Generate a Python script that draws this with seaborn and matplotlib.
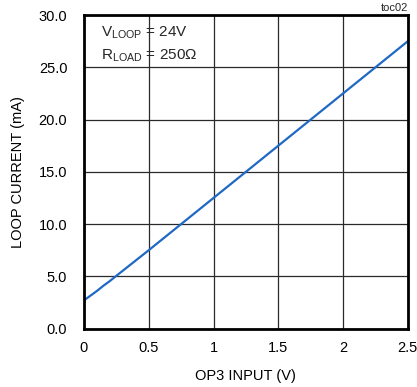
import matplotlib
matplotlib.use("Agg")
import matplotlib.pyplot as plt
import seaborn as sns
import pandas as pd

# Loop current vs. OP3 input voltage
op3_input = [0.0, 0.05, 0.1, 0.15, 0.2, 0.25, 0.5, 0.75, 1.0, 1.25, 1.5, 1.75, 2.0, 2.25, 2.5]
loop_current = [2.7, 3.15, 3.6, 4.1, 4.55, 5.05, 7.5, 10.0, 12.5, 15.0, 17.5, 20.0, 22.5, 25.0, 27.5]

x_ticks = [0, 0.5, 1, 1.5, 2, 2.5]
x_tick_labels = ["0", "0.5", "1", "1.5", "2", "2.5"]
y_ticks = [0, 5, 10, 15, 20, 25, 30]
y_tick_labels = ["0.0", "5.0", "10.0", "15.0", "20.0", "25.0", "30.0"]

sns.set_theme(style="white")
plt.rcParams["font.family"] = ["Liberation Sans", "DejaVu Sans"]
plt.rcParams["mathtext.fontset"] = "custom"
plt.rcParams["mathtext.rm"] = "Liberation Sans"

df = pd.DataFrame({"x": op3_input, "y": loop_current})

fig = plt.figure(figsize=(4.17, 3.87), dpi=100)
ax = fig.add_axes([0.2014, 0.151, 0.7766, 0.810])

sns.lineplot(data=df, x="x", y="y", ax=ax, color="#1f68c4", linewidth=1.6)

ax.set_xlim(0, 2.5)
ax.set_ylim(0, 30)
ax.set_xticks(x_ticks)
ax.set_xticklabels(x_tick_labels)
ax.set_yticks(y_ticks)
ax.set_yticklabels(y_tick_labels)
ax.tick_params(axis="x", length=0, labelsize=10.5, colors="black", pad=9)
ax.tick_params(axis="y", length=0, labelsize=10.5, colors="black", pad=12)
ax.grid(True, color="#2a2a2a", linewidth=0.9)
for s in ax.spines.values():
    s.set_color("black")
    s.set_linewidth(2.0)

ax.set_xlabel("OP3 INPUT (V)", fontsize=10.5, color="black", labelpad=10)
ax.set_ylabel("LOOP CURRENT (mA)", fontsize=10.5, color="black", labelpad=10)

ax.text(0.13, 28.3, r"V$_{\mathrm{LOOP}}$ = 24V", fontsize=11, va="center", ha="left")
ax.text(0.13, 26.1, r"R$_{\mathrm{LOAD}}$ = 250Ω", fontsize=11, va="center", ha="left")
fig.text(0.978, 0.992, "toc02", fontsize=8, ha="right", va="top")

fig.savefig("out.png", dpi=100)
